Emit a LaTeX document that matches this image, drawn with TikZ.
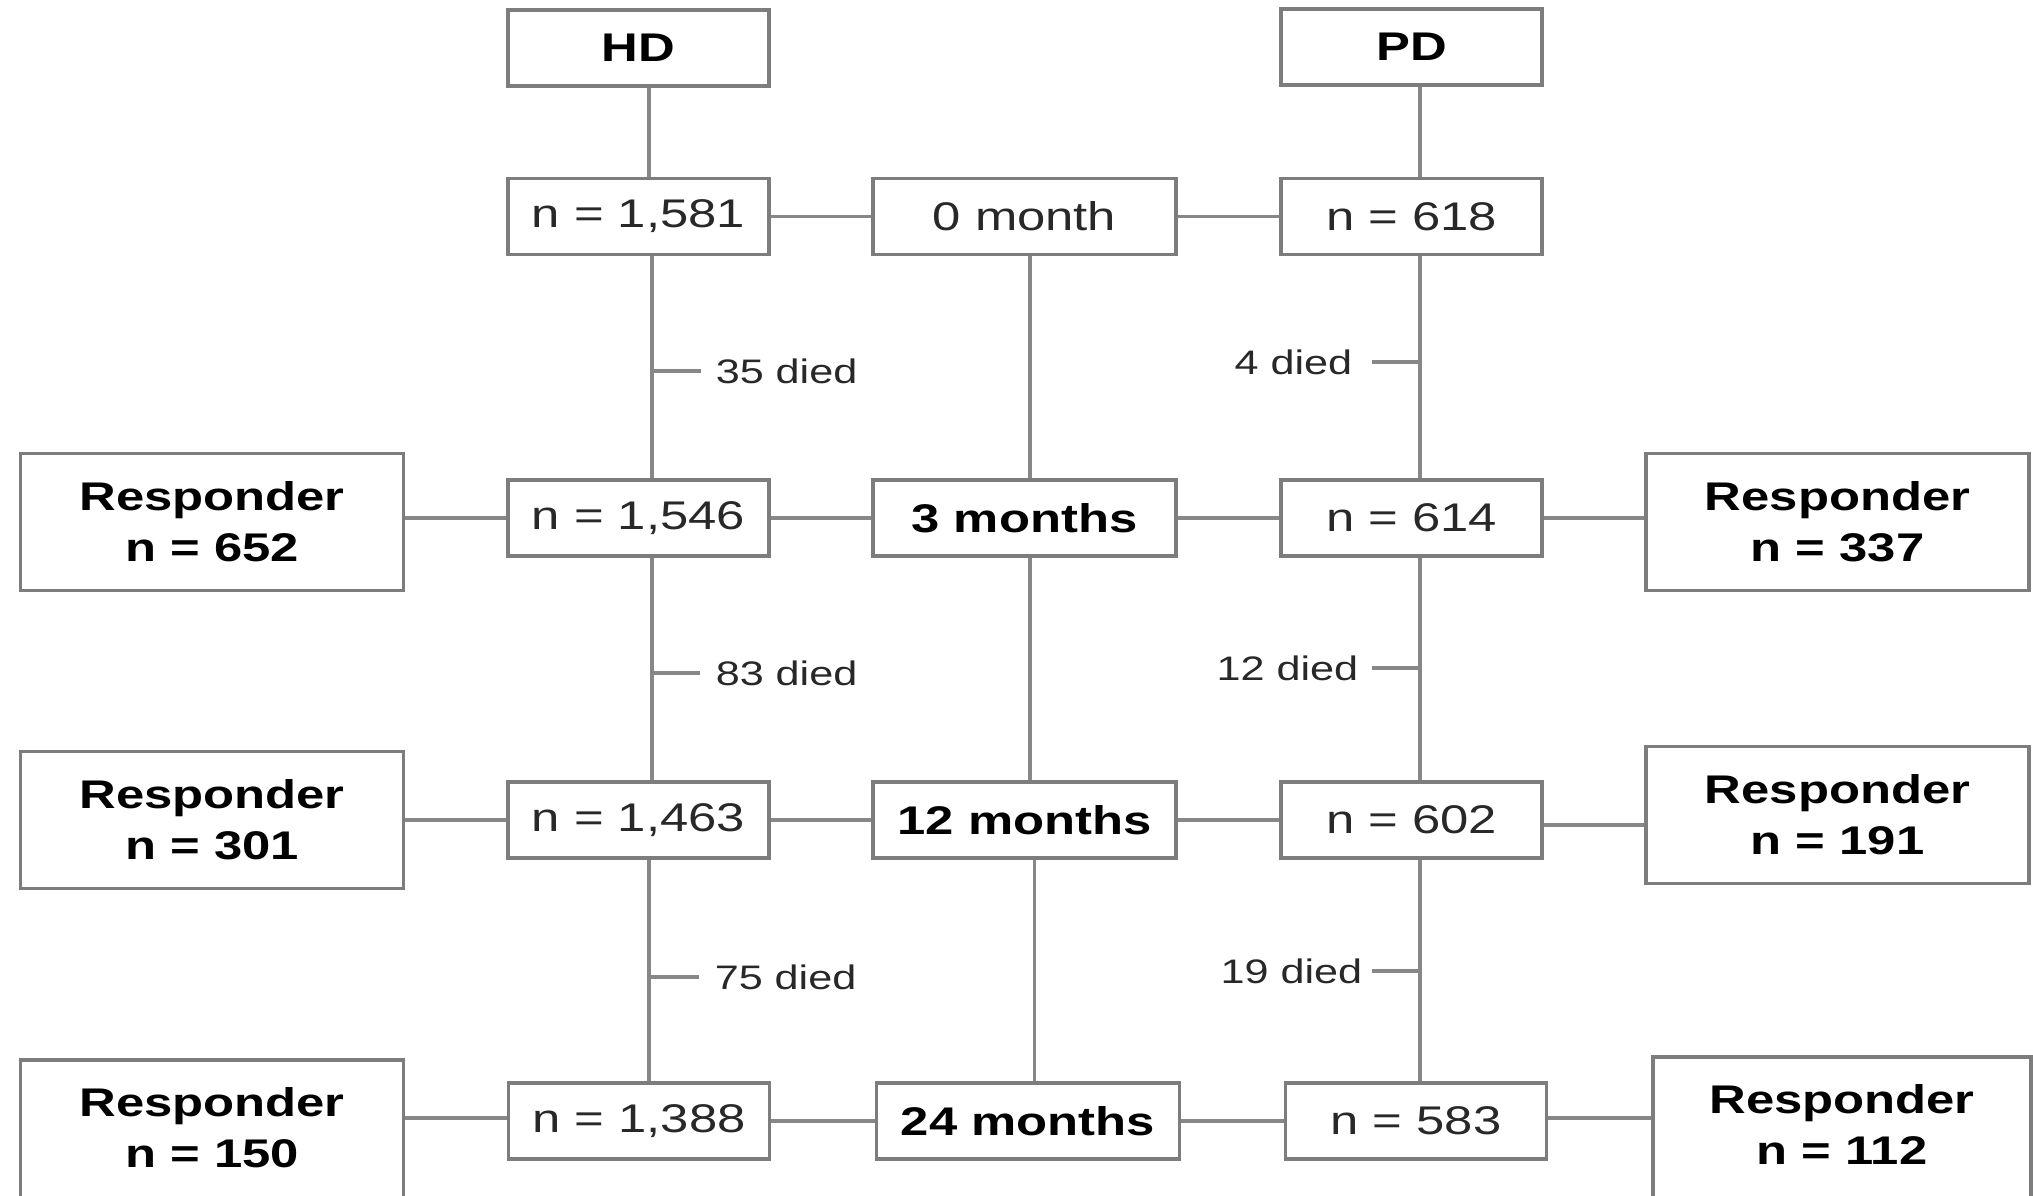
\documentclass[tikz,border=0pt]{standalone}
\usepackage{fontspec}
\setmainfont{Liberation Sans}[FakeStretch=1.27]
\definecolor{linegray}{RGB}{135,135,135}
\definecolor{boxgray}{RGB}{125,125,125}
\definecolor{txtgray}{RGB}{40,40,40}
\begin{document}
\begin{tikzpicture}[x=1pt,y=-1pt,
  box/.style={draw=boxgray, line width=3.5pt, fill=white, minimum width=261pt,
    minimum height=76pt, inner sep=0pt, font=\fontsize{40}{46}\selectfont, text=txtgray},
  bbox/.style={box, font=\fontsize{40}{46}\selectfont\bfseries, text=black},
  midbox/.style={minimum width=303pt},
  resp/.style={bbox, minimum width=383pt, minimum height=137pt, align=center,
    font=\fontsize{40}{51}\selectfont\bfseries},
  conn/.style={draw=linegray, line width=3.5pt},
  died/.style={font=\fontsize{34}{40}\selectfont, text=txtgray, inner sep=0pt}]
\clip (0,0) rectangle (2033,1195);
\fill[white] (0,0) rectangle (2033,1195);
% header
\node[bbox] (hd) at (638.5,48) {HD};
\node[bbox] (pd) at (1411.5,47) {PD};
% row 0
\node[box] (n0) at (638.5,216.5) {n = 1,581};
\node[box,midbox] (m0) at (1024.5,216.5) {0 month};
\node[box] (p0) at (1411.5,216.5) {n = 618};
% row 1
\node[box] (n1) at (638.5,518) {n = 1,546};
\node[bbox,midbox] (m1) at (1024.5,518) {3 months};
\node[box] (p1) at (1411.5,518) {n = 614};
\node[resp] (r652) at (212,522) {Responder\\n = 652};
\node[resp] (r337) at (1837.5,522) {Responder\\n = 337};
% row 2
\node[box] (n2) at (638.5,820) {n = 1,463};
\node[bbox,midbox] (m2) at (1024.5,820) {12 months};
\node[box] (p2) at (1411.5,820) {n = 602};
\node[resp] (r301) at (212,820) {Responder\\n = 301};
\node[resp] (r191) at (1837.5,815) {Responder\\n = 191};
% row 3 (responder boxes run past the lower edge)
\node[box] (n3) at (639,1121) {n = 1,388};
\node[bbox,midbox] (m3) at (1028,1121) {24 months};
\node[box] (p3) at (1416,1121) {n = 583};
\node[resp, minimum height=160pt, text depth=26pt] (r150) at (212,1140) {Responder\\n = 150};
\node[resp, minimum height=160pt, minimum width=378pt, text depth=26pt] (r112) at (1842,1137) {Responder\\n = 112};
% vertical connectors
\draw[conn] ([xshift=10.5pt]hd.south) -- ([xshift=10.5pt]n0.north);
\draw[conn] ([xshift=8.5pt]pd.south) -- ([xshift=8.5pt]p0.north);
\draw[conn] ([xshift=13.5pt]n0.south) -- ([xshift=13.5pt]n1.north);
\draw[conn] ([xshift=13.5pt]n1.south) -- ([xshift=13.5pt]n2.north);
\draw[conn] ([xshift=10.5pt]n2.south) -- ([xshift=10.5pt]n2.south |- n3.north);
\draw[conn] ([xshift=5.5pt]m0.south) -- ([xshift=5.5pt]m1.north);
\draw[conn] ([xshift=5.5pt]m1.south) -- ([xshift=5.5pt]m2.north);
\draw[conn] ([xshift=10pt]m2.south) -- ([xshift=10pt]m2.south |- m3.north);
\draw[conn] ([xshift=8.5pt]p0.south) -- ([xshift=8.5pt]p1.north);
\draw[conn] ([xshift=8.5pt]p1.south) -- ([xshift=8.5pt]p2.north);
\draw[conn] ([xshift=8.5pt]p2.south) -- ([xshift=8.5pt]p2.south |- p3.north);
% horizontal connectors
\draw[conn] (n0.east) -- (m0.west);
\draw[conn] (m0.east) -- (p0.west);
\draw[conn] (r652.east |- n1.east) -- (n1.west);
\draw[conn] (n1.east) -- (m1.west);
\draw[conn] (m1.east) -- (p1.west);
\draw[conn] (p1.east) -- (p1.east -| r337.west);
\draw[conn] (r301.east |- n2.east) -- (n2.west);
\draw[conn] (n2.east) -- (m2.west);
\draw[conn] (m2.east) -- (p2.west);
\draw[conn] ([yshift=-5pt]p2.east) -- ([yshift=-5pt]p2.east -| r191.west);
\draw[conn] ([yshift=3pt]r150.east |- n3.east) -- ([yshift=3pt]n3.west);
\draw[conn] (n3.east) -- (m3.west);
\draw[conn] (m3.east) -- (p3.west);
\draw[conn] ([yshift=3pt]p3.east) -- ([yshift=3pt]p3.east -| r112.west);
% died ticks
\coordinate (t1) at (652,371);
\coordinate (t2) at (652,673);
\coordinate (t3) at (651,977);
\coordinate (u1) at (1420,362);
\coordinate (u2) at (1420,668);
\coordinate (u3) at (1420,971);
\draw[conn] (t1) -- ++(49,0) node[died, anchor=west, xshift=13pt] {35 died};
\draw[conn] (t2) -- ++(48,0) node[died, anchor=west, xshift=14pt] {83 died};
\draw[conn] (t3) -- ++(48,0) node[died, anchor=west, xshift=14pt] {75 died};
\draw[conn] (u1) -- ++(-48,0) node[died, anchor=east, xshift=-18pt] {4 died};
\draw[conn] (u2) -- ++(-48,0) node[died, anchor=east, xshift=-12pt] {12 died};
\draw[conn] (u3) -- ++(-48,0) node[died, anchor=east, xshift=-8pt] {19 died};
\end{tikzpicture}
\end{document}
